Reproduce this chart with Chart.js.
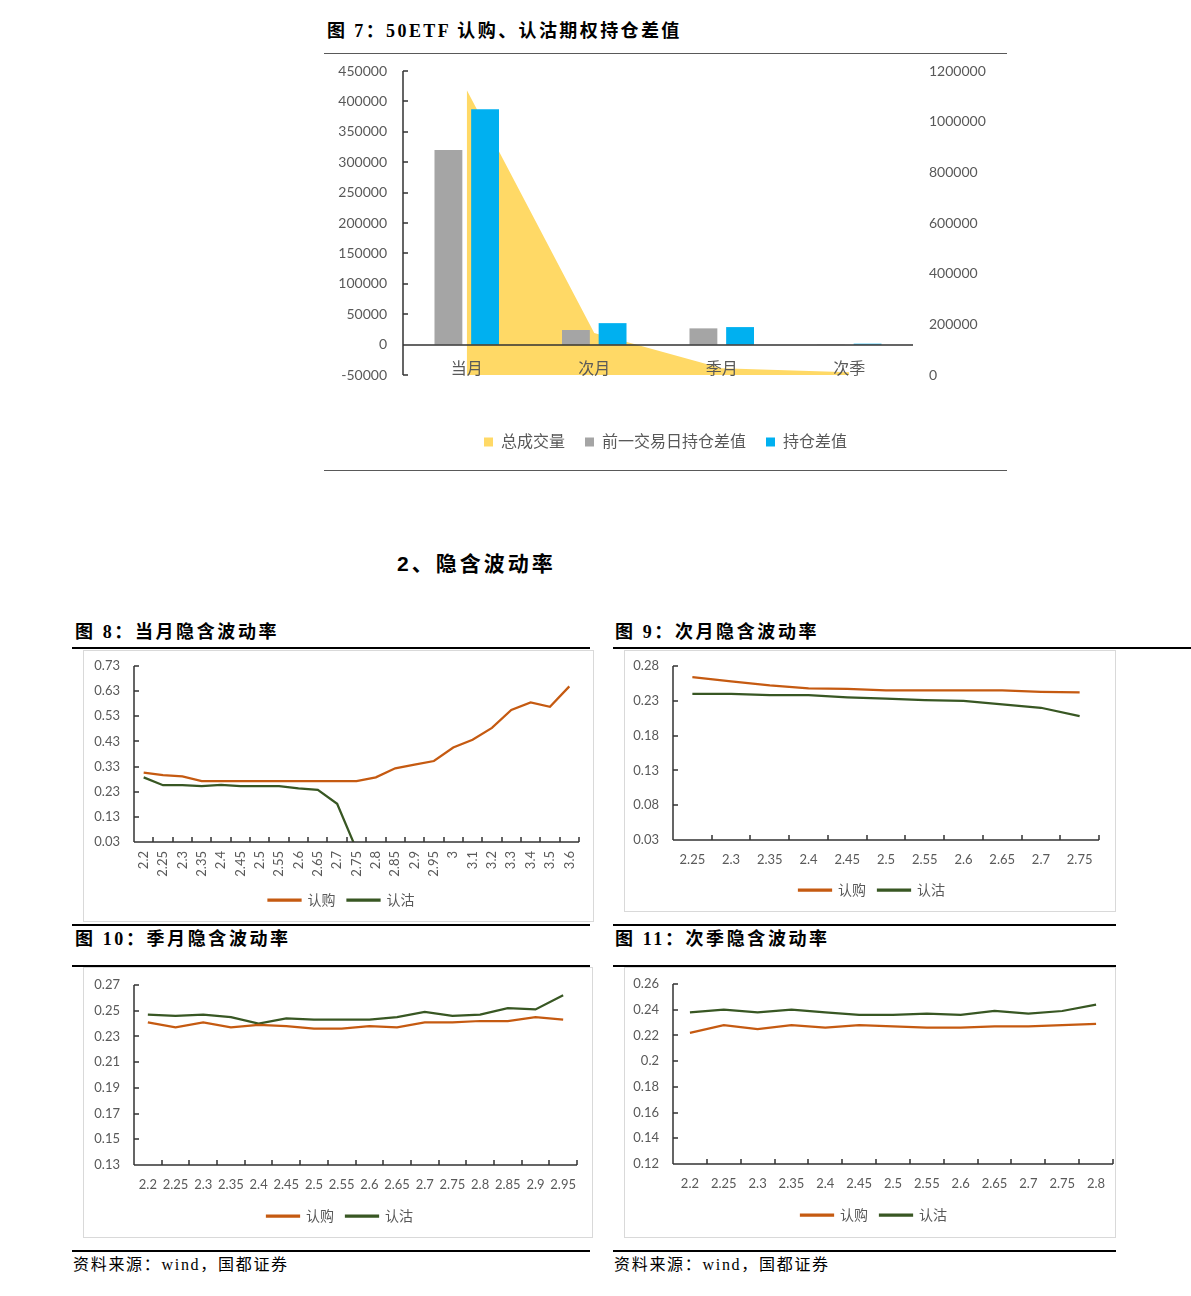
<!DOCTYPE html>
<html>
<head>
<meta charset="utf-8">
<script src="https://cdn.jsdelivr.net/npm/chart.js@4.4.1/dist/chart.umd.min.js"></script>
<style>
  body { margin: 0; background: #fff; width: 1191px; height: 1296px; position: relative; overflow: hidden; }
  .t { position: absolute; white-space: nowrap; color: #000; }
  .cap { font: bold 18px "Liberation Serif", "Noto Sans CJK SC", serif; letter-spacing: 2.6px; line-height: 24px; }
  .title7 { letter-spacing: 2.4px; }
  .head { font: bold 21px "Liberation Sans", "Noto Sans CJK SC", sans-serif; letter-spacing: 3px; line-height: 28px; }
  .src { font: 16px "Liberation Serif", "Noto Sans CJK SC", serif; letter-spacing: 1.7px; line-height: 22px; }
  .rule { position: absolute; height: 0; border-top: 2px solid #000; }
  .thin { position: absolute; height: 0; border-top: 1px solid #595959; }
  .box { position: absolute; border: 1px solid #d9d9d9; }
  .plain { position: absolute; }
</style>
</head>
<body>

<div class="t cap title7" style="left:327px;top:19px">图 7：50ETF 认购、认沽期权持仓差值</div>
<div class="thin" style="left:324px;top:53px;width:683px"></div>
<div class="plain" style="left:324px;top:55px;width:683px;height:413px"><canvas id="c7"></canvas></div>
<div class="thin" style="left:324px;top:470px;width:683px"></div>

<div class="t head" style="left:397px;top:550px">2、隐含波动率</div>

<div class="t cap" style="left:75px;top:620px">图 8：当月隐含波动率</div>
<div class="t cap" style="left:615px;top:620px">图 9：次月隐含波动率</div>
<div class="rule" style="left:72px;top:647px;width:518px"></div>
<div class="rule" style="left:613px;top:647px;width:578px"></div>

<div class="box" style="left:83px;top:650px;width:509px;height:270px"><canvas id="c8"></canvas></div>
<div class="box" style="left:624px;top:650px;width:490px;height:260px"><canvas id="c9"></canvas></div>

<div class="rule" style="left:72px;top:924px;width:518px"></div>
<div class="rule" style="left:613px;top:924px;width:503px"></div>
<div class="t cap" style="left:75px;top:927px">图 10：季月隐含波动率</div>
<div class="t cap" style="left:615px;top:927px">图 11：次季隐含波动率</div>
<div class="rule" style="left:72px;top:965px;width:518px"></div>
<div class="rule" style="left:613px;top:965px;width:503px"></div>

<div class="box" style="left:83px;top:967px;width:508px;height:269px"><canvas id="c10"></canvas></div>
<div class="box" style="left:624px;top:967px;width:490px;height:269px"><canvas id="c11"></canvas></div>

<div class="rule" style="left:72px;top:1250px;width:518px"></div>
<div class="rule" style="left:613px;top:1250px;width:503px"></div>
<div class="t src" style="left:73px;top:1254px">资料来源：wind，国都证券</div>
<div class="t src" style="left:614px;top:1254px">资料来源：wind，国都证券</div>

<script>
// 图7 持仓差值
const oiLabels = ["当月", "次月", "季月", "次季"];
const totalVolume = [1125000, 166000, 27000, 11000];
const prevOiDiff = [320000, 24000, 26700, 300];
const oiDiff = [387000, 35300, 28800, 1500];

// 图8 当月
const strikes8 = ["2.2", "2.25", "2.3", "2.35", "2.4", "2.45", "2.5", "2.55", "2.6", "2.65", "2.7", "2.75",
  "2.8", "2.85", "2.9", "2.95", "3", "3.1", "3.2", "3.3", "3.4", "3.5", "3.6"];
const call8 = [0.306, 0.296, 0.291, 0.272, 0.272, 0.272, 0.272, 0.272, 0.272, 0.272, 0.272, 0.272,
  0.287, 0.323, 0.338, 0.352, 0.406, 0.437, 0.484, 0.555, 0.585, 0.568, 0.649];
const put8 = [0.287, 0.256, 0.256, 0.252, 0.257, 0.252, 0.252, 0.252, 0.243, 0.237, 0.182, 0.0,
  null, null, null, null, null, null, null, null, null, null, null];

// 图9 次月
const strikes9 = ["2.25", "2.3", "2.35", "2.4", "2.45", "2.5", "2.55", "2.6", "2.65", "2.7", "2.75"];
const call9 = [0.264, 0.258, 0.252, 0.248, 0.247, 0.245, 0.245, 0.245, 0.245, 0.243, 0.242];
const put9 = [0.240, 0.240, 0.238, 0.238, 0.235, 0.233, 0.231, 0.230, 0.225, 0.220, 0.208];

// 图10 季月
const strikes10 = ["2.2", "2.25", "2.3", "2.35", "2.4", "2.45", "2.5", "2.55", "2.6", "2.65", "2.7", "2.75",
  "2.8", "2.85", "2.9", "2.95"];
const call10 = [0.241, 0.237, 0.241, 0.237, 0.239, 0.238, 0.236, 0.236, 0.238, 0.237, 0.241, 0.241,
  0.242, 0.242, 0.245, 0.243];
const put10 = [0.247, 0.246, 0.247, 0.245, 0.240, 0.244, 0.243, 0.243, 0.243, 0.245, 0.249, 0.246,
  0.247, 0.252, 0.251, 0.262];

// 图11 次季
const strikes11 = ["2.2", "2.25", "2.3", "2.35", "2.4", "2.45", "2.5", "2.55", "2.6", "2.65", "2.7", "2.75", "2.8"];
const call11 = [0.222, 0.228, 0.225, 0.228, 0.226, 0.228, 0.227, 0.226, 0.226, 0.227, 0.227, 0.228, 0.229];
const put11 = [0.238, 0.240, 0.238, 0.240, 0.238, 0.236, 0.236, 0.237, 0.236, 0.239, 0.237, 0.239, 0.244];

const grey = "#595959";
const axisColor = "#333333";
const orange = "#C55A11";
const green = "#385723";

Chart.defaults.font.family = "Lato, 'Noto Sans CJK SC', sans-serif";
Chart.defaults.color = grey;
Chart.defaults.animation = false;

// excel style axes: value axis line, base line and tick marks pointing into the plot
const excelAxes = {
  id: "excelAxes",
  afterDatasetsDraw(chart, args, opts) {
    const { ctx, chartArea } = chart;
    const y = chart.scales.y;
    const len = 5;
    const lx = Math.round(chartArea.left);
    const by = Math.round(y.getPixelForValue(opts.base));
    ctx.save();
    ctx.strokeStyle = axisColor;
    ctx.lineWidth = 1.5;
    ctx.beginPath();
    ctx.moveTo(lx, chartArea.top);
    ctx.lineTo(lx, chartArea.bottom);
    ctx.moveTo(chartArea.left, by);
    ctx.lineTo(chartArea.right, by);
    y.ticks.forEach((t, i) => {
      const py = Math.round(y.getPixelForTick(i));
      ctx.moveTo(lx, py);
      ctx.lineTo(lx + len, py);
    });
    if (opts.xTicks) {
      const x = chart.scales.x;
      for (let i = 1; i <= x.ticks.length; i++) {
        const px = Math.round(x.getPixelForValue(i - 0.5));
        ctx.moveTo(px, by);
        ctx.lineTo(px, by - len);
      }
    }
    ctx.stroke();
    ctx.restore();
  },
};

new Chart(document.getElementById("c7"), {
  type: "bar",
  data: {
    labels: oiLabels,
    datasets: [
      {
        type: "line",
        label: "总成交量",
        data: totalVolume,
        yAxisID: "y1",
        fill: "origin",
        backgroundColor: "#FFD966",
        borderColor: "#FFD966",
        borderWidth: 0,
        pointRadius: 0,
        tension: 0,
        order: 2,
      },
      {
        label: "前一交易日持仓差值",
        data: prevOiDiff,
        backgroundColor: "#A5A5A5",
        barPercentage: 0.76,
        categoryPercentage: 0.575,
        order: 1,
      },
      {
        label: "持仓差值",
        data: oiDiff,
        backgroundColor: "#00B0F0",
        barPercentage: 0.76,
        categoryPercentage: 0.575,
        order: 1,
      },
    ],
  },
  options: {
    responsive: true,
    maintainAspectRatio: false,
    layout: { padding: { top: 16, bottom: 8, left: 0, right: 0 } },
    plugins: {
      tooltip: { enabled: false },
      excelAxes: { base: 0, xTicks: false },
      legend: {
        position: "bottom",
        labels: {
          boxWidth: 9,
          boxHeight: 9,
          padding: 20,
          color: grey,
          font: { size: 16 },
          sort: (a, b) => a.datasetIndex - b.datasetIndex,
        },
      },
    },
    scales: {
      x: {
        grid: { display: false, drawTicks: false },
        border: { display: false },
        ticks: { z: 1, mirror: true, padding: -3, color: grey, font: { size: 16 } },
        afterFit: (s) => { s.height = 39; },
      },
      y: {
        position: "left",
        min: -50000,
        max: 450000,
        ticks: { stepSize: 50000, padding: 0, color: grey, font: { size: 14 }, callback: (v) => String(v) },
        grid: { display: false, drawTicks: true, tickLength: 16 },
        border: { display: false },
        afterFit: (s) => { s.width = 79; },
      },
      y1: {
        position: "right",
        min: 0,
        max: 1200000,
        ticks: { stepSize: 200000, padding: 0, color: grey, font: { size: 14 }, callback: (v) => String(v) },
        grid: { display: false, drawTicks: true, tickLength: 16 },
        border: { display: false },
        afterFit: (s) => { s.width = 94; },
      },
    },
  },
  plugins: [excelAxes],
});

const smileChart = (id, labels, calls, puts, yMin, yMax, step, box) => {
  return new Chart(document.getElementById(id), {
    type: "line",
    data: {
      labels: labels,
      datasets: [
        { label: "认购", data: calls, borderColor: orange, backgroundColor: orange, borderWidth: 2.25, pointRadius: 0, tension: 0 },
        { label: "认沽", data: puts, borderColor: green, backgroundColor: green, borderWidth: 2.25, pointRadius: 0, tension: 0 },
      ],
    },
    options: {
      responsive: true,
      maintainAspectRatio: false,
      layout: { padding: { top: box.top, right: 0, bottom: box.bottom, left: box.left } },
      plugins: {
        tooltip: { enabled: false },
        excelAxes: { base: yMin, xTicks: true },
        legend: {
          position: "bottom",
          labels: { boxWidth: 32, boxHeight: 1, padding: 12, color: grey, font: { size: 14 } },
        },
      },
      scales: {
        x: {
          offset: true,
          grid: { display: false, drawTicks: true, tickLength: box.tickPad },
          border: { display: false },
          ticks: {
            autoSkip: false,
            maxRotation: box.rot,
            minRotation: box.rot,
            padding: 0,
            color: grey,
            font: { size: 13 },
          },
          afterFit: (s) => { s.height = box.xh; },
        },
        y: {
          min: yMin,
          max: yMax,
          ticks: {
            stepSize: step,
            padding: 0,
            color: grey,
            font: { size: 13 },
            callback: (v) => String(+v.toFixed(2)),
          },
          grid: { display: false, drawTicks: true, tickLength: 14 },
          border: { display: false },
          afterFit: (s) => { s.width = box.yw - box.left; },
        },
        // empty right gutter so the legend stays centred on the frame
        gutter: {
          position: "right",
          grid: { display: false, drawTicks: false },
          border: { display: false },
          ticks: { display: false },
          afterFit: (s) => { s.width = box.right; },
        },
      },
    },
    plugins: [excelAxes],
  });
};

smileChart("c8", strikes8, call8, put8, 0.03, 0.73, 0.1,
  { top: 15, left: 6, right: 14, bottom: 4, xh: 39, yw: 50, rot: 90, tickPad: 9 });
smileChart("c9", strikes9, call9, put9, 0.03, 0.28, 0.05,
  { top: 15, left: 4, right: 16, bottom: 4, xh: 31, yw: 48, rot: 0, tickPad: 12 });
smileChart("c10", strikes10, call10, put10, 0.13, 0.27, 0.02,
  { top: 17, left: 4, right: 15, bottom: 4, xh: 32, yw: 50, rot: 0, tickPad: 12 });
smileChart("c11", strikes11, call11, put11, 0.12, 0.26, 0.02,
  { top: 16, left: 8, right: 2, bottom: 5, xh: 32, yw: 48, rot: 0, tickPad: 12 });
</script>
</body>
</html>
